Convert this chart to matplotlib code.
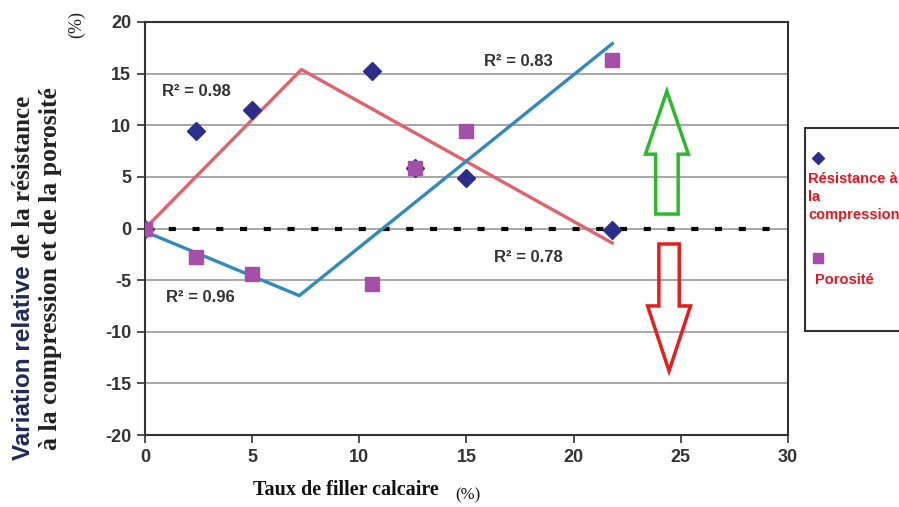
import matplotlib.pyplot as plt
from matplotlib.patches import FancyArrow, Rectangle
from matplotlib.lines import Line2D

# données
taux = [0, 2.4, 5, 10.6, 12.6, 15, 21.8]
resistance = [0, 9.4, 11.5, 15.3, 5.9, 4.9, -0.1]
porosite = [0, -2.8, -4.4, -5.4, 5.9, 9.4, 16.3]

# droites de tendance (deux segments chacune)
tend_res_x = [0, 7.3, 21.8]
tend_res_y = [0, 15.4, -1.4]
tend_por_x = [0, 7.2, 21.8]
tend_por_y = [-0.3, -6.5, 17.9]

r2_labels = ["R² = 0.98", "R² = 0.96", "R² = 0.83", "R² = 0.78"]
xticks = [0, 5, 10, 15, 20, 25, 30]
yticks = [-20, -15, -10, -5, 0, 5, 10, 15, 20]

navy = "#2B2F8A"
purple = "#A54FA8"
red_line = "#E2616C"
blue_line = "#2E8BC0"
legend_red = "#E8141E"

W, H = 899, 507
fig = plt.figure(figsize=(W / 100, H / 100), dpi=100)
ax = fig.add_axes([145 / W, 1 - 435 / H, 643 / W, 413 / H])

ax.set_xlim(0, 30)
ax.set_ylim(-20, 20)
ax.set_xticks(xticks)
ax.set_yticks(yticks)
ax.set_xticklabels([str(t) for t in xticks], family="Liberation Sans",
                   fontweight="bold", fontsize=13, color="#333333")
ax.set_yticklabels([str(t) for t in yticks], family="Liberation Sans",
                   fontweight="bold", fontsize=13, color="#333333")
ax.tick_params(direction="out", length=6, width=1.2, color="#333333", pad=4)
ax.yaxis.grid(True, color="#a0a0a0", linewidth=1.3)
ax.set_axisbelow(True)
for s in ax.spines.values():
    s.set_color("#333333")
    s.set_linewidth(1.5)

ax.plot([0, 29.4], [0, 0], color="black", linewidth=3, dashes=(1.7, 4), zorder=2)

ax.plot(tend_res_x, tend_res_y, color=red_line, linewidth=2.4, zorder=3)
ax.plot(tend_por_x, tend_por_y, color=blue_line, linewidth=2.4, zorder=3)

ax.plot(taux, resistance, linestyle="none", marker="D", markersize=9.5,
        color=navy, zorder=4)
ax.plot(taux, porosite, linestyle="none", marker="s", markersize=9.5,
        color=purple, zorder=5)

txt = dict(family="Liberation Sans", fontweight="bold", fontsize=12,
           color="#333333", va="center")
ax.text(0.8, 13.3, r2_labels[0], **txt)
ax.text(1.0, -6.7, r2_labels[1], **txt)
ax.text(15.8, 16.2, r2_labels[2], **txt)
ax.text(16.3, -2.8, r2_labels[3], **txt)

# flèches creuses
ax.add_patch(FancyArrow(24.35, 1.4, 0, 11.9, width=1.05, head_width=2.0,
                        head_length=6.1, length_includes_head=True,
                        facecolor="none", edgecolor="#2DB82D", linewidth=2.5,
                        zorder=3))
ax.add_patch(FancyArrow(24.45, -1.5, 0, -12.3, width=0.95, head_width=2.0,
                        head_length=6.3, length_includes_head=True,
                        facecolor="none", edgecolor="#E81C1C", linewidth=2.5,
                        zorder=3))

# titres des axes
serif = dict(family="Liberation Serif", fontweight="bold")
fig.text(253 / W, 1 - 490 / H, "Taux de filler calcaire", fontsize=14.5,
         ha="left", va="center", color="#111111", **serif)
fig.text(455 / W, 1 - 495 / H, "(%)", fontsize=12, ha="left", va="center",
         color="#111111", family="Liberation Serif")

t1 = fig.text(24 / W, 1 - 460 / H, "Variation relative", fontsize=17.5,
              rotation=90, ha="center", va="bottom", color="#1F2A5A",
              family="Liberation Sans", fontweight="bold")
fig.canvas.draw()
top1 = t1.get_window_extent().y1
fig.text(24 / W, (top1 + 7) / H, "de la résistance", fontsize=18, rotation=90,
         ha="center", va="bottom", color="#222222", **serif)
fig.text(51 / W, 1 - 450 / H, "à la compression et de la porosité",
         fontsize=18.5, rotation=90, ha="center", va="bottom", color="#222222",
         **serif)
fig.text(77 / W, 1 - 24 / H, "(%)", fontsize=13, rotation=90, ha="center",
         va="center", color="#222222", family="Liberation Serif")

# légende dessinée à la main
fig.patches.append(Rectangle((805 / W, 1 - 331 / H), 200 / W, 203 / H,
                             transform=fig.transFigure, facecolor="white",
                             edgecolor="#333333", linewidth=1.5))
fig.add_artist(Line2D([818 / W], [1 - 158 / H], marker="D", markersize=6.5,
                      color=navy, transform=fig.transFigure))
fig.add_artist(Line2D([818 / W], [1 - 258 / H], marker="s", markersize=7.5,
                      color=purple, transform=fig.transFigure))
leg = dict(family="Liberation Sans", fontweight="bold", fontsize=10.5,
           color=legend_red, ha="left", va="center")
fig.text(808 / W, 1 - 179 / H, "Résistance à", **leg)
fig.text(808 / W, 1 - 197 / H, "la", **leg)
fig.text(808 / W, 1 - 215 / H, "compression", **leg)
fig.text(815 / W, 1 - 280 / H, "Porosité", **leg)

fig.savefig("out.png", dpi=100)
